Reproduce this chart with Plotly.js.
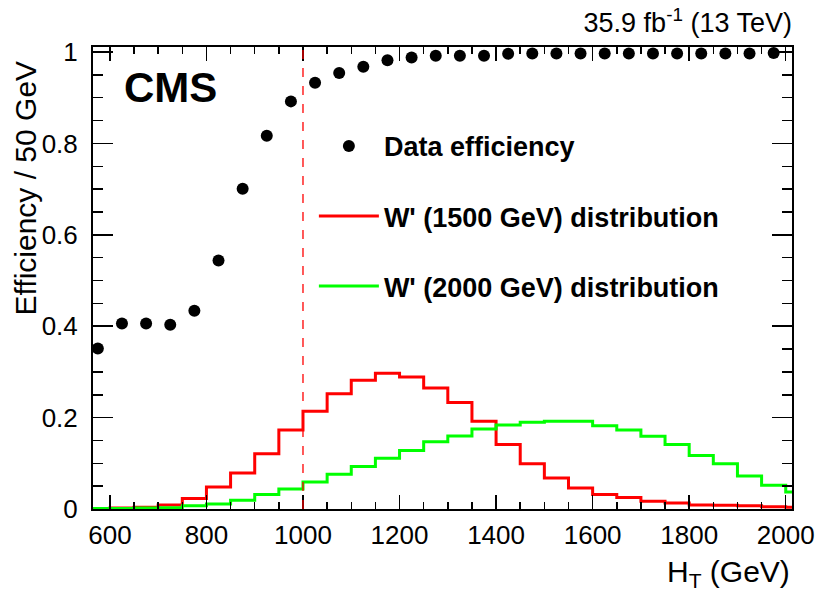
<!DOCTYPE html>
<html>
<head>
<meta charset="utf-8">
<script src="https://cdn.plot.ly/plotly-3.0.1.min.js"></script>
<style>html,body{margin:0;padding:0;background:#fff;}#chart{width:820px;height:595px;}</style>
</head>
<body>
<div id="chart"></div>
<script>
// Data efficiency points (bin centres, GeV) and values
const effHT = [575, 625, 675, 725, 775, 825, 875, 925, 975, 1025, 1075, 1125, 1175, 1225, 1275,
               1325, 1375, 1425, 1475, 1525, 1575, 1625, 1675, 1725, 1775, 1825, 1875, 1925, 1975];
const effVal = [0.351, 0.406, 0.406, 0.403, 0.434, 0.544, 0.701, 0.817, 0.892, 0.933, 0.954, 0.968, 0.982, 0.988, 0.992,
                0.992, 0.992, 0.996, 0.997, 0.997, 0.997, 0.997, 0.997, 0.997, 0.997, 0.997, 0.997, 0.997, 0.998];

// Histogram bin low edges (GeV), width 50
const binLow = [550, 600, 650, 700, 750, 800, 850, 900, 950, 1000, 1050, 1100, 1150, 1200, 1250,
                1300, 1350, 1400, 1450, 1500, 1550, 1600, 1650, 1700, 1750, 1800, 1850, 1900, 1950, 2000];
const binWidth = 50;
const wp1500 = [0.001, 0.002, 0.004, 0.009, 0.023, 0.048, 0.079, 0.121, 0.173, 0.214, 0.252, 0.282, 0.297, 0.289, 0.265,
                0.233, 0.192, 0.141, 0.099, 0.068, 0.046, 0.032, 0.025, 0.017, 0.013, 0.009, 0.008, 0.007, 0.005, 0.004];
const wp2000 = [0.001, 0.001, 0.002, 0.003, 0.007, 0.011, 0.019, 0.032, 0.044, 0.059, 0.076, 0.093, 0.111, 0.128, 0.147,
                0.160, 0.175, 0.184, 0.190, 0.192, 0.192, 0.182, 0.173, 0.159, 0.141, 0.117, 0.099, 0.072, 0.052, 0.037];

const cutHT = 1000;
const seriesNames = ['Data efficiency', "W' (1500 GeV) distribution", "W' (2000 GeV) distribution"];
const lumiText = '35.9 fb<sup>-1</sup> (13 TeV)';
const yTickVals = [0, 0.2, 0.4, 0.6, 0.8, 1];
const yTickText = ['0', '0.2', '0.4', '0.6', '0.8', '1'];

function stepX(lows) { return lows.concat([lows[lows.length - 1] + binWidth]); }
function stepY(v) { return v.concat([v[v.length - 1]]); }

const traces = [
  {
    x: effHT, y: effVal, type: 'scatter', mode: 'markers', name: seriesNames[0],
    marker: {color: '#000', size: 12}, legendgroup: 'a',
    cliponaxis: false
  },
  {
    x: stepX(binLow), y: stepY(wp1500), type: 'scatter', mode: 'lines', name: seriesNames[1],
    line: {color: '#ff0000', width: 3, shape: 'hv'}, legendgroup: 'b'
  },
  {
    x: stepX(binLow), y: stepY(wp2000), type: 'scatter', mode: 'lines', name: seriesNames[2],
    line: {color: '#00ff00', width: 3, shape: 'hv'}, legendgroup: 'c'
  }
];

const font = 'Liberation Sans, Arial, Helvetica, sans-serif';

const layout = {
  width: 820, height: 595,
  margin: {l: 93, r: 28, t: 47, b: 86},
  paper_bgcolor: '#fff', plot_bgcolor: '#fff',
  font: {family: font, color: '#000', size: 26},
  showlegend: true,
  legend: {
    x: 0.316, y: 0.838, xanchor: 'left', yanchor: 'top',
    bgcolor: 'rgba(0,0,0,0)', borderwidth: 0,
    font: {family: font, size: 27, color: '#000', weight: 'bold'},
    traceorder: 'grouped', tracegroupgap: 32, itemwidth: 60
  },
  title: {
    text: lumiText, font: {family: font, size: 27, color: '#000'},
    xref: 'paper', x: 1, xanchor: 'right', yref: 'container', y: 0.962, yanchor: 'middle'
  },
  xaxis: {
    range: [565, 2013], showgrid: false, zeroline: false,
    showline: true, linecolor: '#000', linewidth: 2, mirror: 'allticks',
    ticks: 'inside', ticklen: 14, tickwidth: 1.5, tickcolor: '#000',
    tick0: 0, dtick: 200, tickfont: {family: font, size: 26, color: '#000'},
    minor: {dtick: 50, tick0: 0, ticks: 'inside', ticklen: 7, tickwidth: 1.5, tickcolor: '#000', showgrid: false},
    ticklabelstandoff: 2
  },
  yaxis: {
    range: [0, 1.011], showgrid: false, zeroline: false,
    showline: true, linecolor: '#000', linewidth: 2, mirror: 'allticks',
    ticks: 'inside', ticklen: 20, tickwidth: 1.5, tickcolor: '#000',
    tickfont: {family: font, size: 26, color: '#000'},
    tickvals: yTickVals, ticktext: yTickText,
    minor: {dtick: 0.05, tick0: 0, ticks: 'inside', ticklen: 10, tickwidth: 1.5, tickcolor: '#000', showgrid: false},
    ticklabelstandoff: 8
  },
  shapes: [
    {type: 'line', xref: 'x', yref: 'paper', x0: cutHT, x1: cutHT, y0: 0, y1: 1,
     line: {color: '#ff0000', width: 1.3, dash: 'dash'}, layer: 'above'}
  ],
  annotations: [
    {text: '<b>CMS</b>', xref: 'paper', yref: 'paper', x: 0.042, y: 0.913, xanchor: 'left', yanchor: 'middle',
     showarrow: false, font: {family: font, size: 42, color: '#000'}},
    {text: 'H<sub>T</sub> (GeV)', xref: 'paper', yref: 'paper', x: 1, y: -0.14, xanchor: 'right', yanchor: 'middle',
     showarrow: false, font: {family: font, size: 30, color: '#000'}},
    {text: 'Efficiency / 50 GeV', xref: 'paper', yref: 'paper', x: -0.096, y: 0.976, xanchor: 'center', yanchor: 'top',
     textangle: -90, showarrow: false, font: {family: font, size: 30, color: '#000'}}
  ]
};

Plotly.newPlot('chart', traces, layout, {staticPlot: true, displayModeBar: false});
</script>
</body>
</html>
